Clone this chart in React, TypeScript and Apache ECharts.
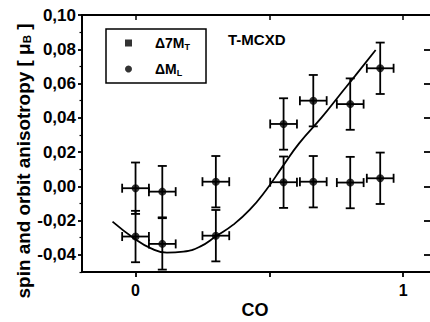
import React, { useEffect, useRef } from "react";
import * as echarts from "echarts";

// ---- data ----
const coverage = [0, 0.1, 0.3, 0.553, 0.664, 0.802, 0.914];
const deltaML = [-0.0293, -0.0336, -0.0288, 0.0364, 0.05, 0.048, 0.0689];
const delta7MT = [-0.0011, -0.0031, 0.0027, 0.0024, 0.0027, 0.0022, 0.0047];
const coverageErr = [0.05, 0.05, 0.05, 0.05, 0.05, 0.05, 0.05];
const anisoErr = [0.015, 0.015, 0.015, 0.015, 0.015, 0.015, 0.015];

const fitCoverage = [-0.086, -0.006, 0.056, 0.117, 0.179, 0.241, 0.303, 0.364, 0.426, 0.488, 0.549, 0.611, 0.697, 0.759, 0.821, 0.897];
const fitAniso = [-0.0206, -0.0303, -0.0361, -0.0387, -0.0381, -0.0352, -0.0289, -0.0225, -0.0138, -0.0021, 0.0115, 0.0251, 0.0405, 0.0526, 0.0646, 0.0796];

const yLabelValues = [-0.04, -0.02, 0, 0.02, 0.04, 0.06, 0.08, 0.1];
const yMinorValues = [-0.05, -0.03, -0.01, 0.01, 0.03, 0.05, 0.07, 0.09];
const xTickValues = [0, 0.5, 1];
const xLabelValues = [0, 1];

const FONT = "'Liberation Sans', Arial, sans-serif";

function renderErr(params: any, api: any) {
  const x = api.value(0);
  const y = api.value(1);
  const ex = api.value(2);
  const ey = api.value(3);
  const L = api.coord([x - ex, y]);
  const R = api.coord([x + ex, y]);
  const T = api.coord([x, y + ey]);
  const B = api.coord([x, y - ey]);
  const s = { stroke: "#000", lineWidth: 1.8 };
  const c = 4.5;
  const ln = (x1: number, y1: number, x2: number, y2: number) => ({
    type: "line",
    shape: { x1, y1, x2, y2 },
    style: s,
  });
  return {
    type: "group",
    children: [
      ln(L[0], L[1], R[0], R[1]),
      ln(T[0], T[1], B[0], B[1]),
      ln(T[0] - c, T[1], T[0] + c, T[1]),
      ln(B[0] - c, B[1], B[0] + c, B[1]),
      ln(L[0], L[1] - c, L[0], L[1] + c),
      ln(R[0], R[1] - c, R[0], R[1] + c),
    ],
  };
}

export default function App() {
  const ref = useRef<HTMLDivElement>(null);
  useEffect(() => {
    if (!ref.current) return;
    const chart = echarts.init(ref.current, null, { renderer: "svg" });
    const errData = (vals: number[]) =>
      coverage.map((c, i) => [c, vals[i], coverageErr[i], anisoErr[i]]);
    const option: any = {
      animation: false,
      backgroundColor: "#fff",
      grid: { left: 82, top: 15, width: 351, height: 257 },
      legend: {
        orient: "vertical",
        left: 106,
        top: 29,
        padding: [6, 16, 6, 19],
        itemGap: 10,
        itemWidth: 7,
        itemHeight: 7,
        borderColor: "#000",
        borderWidth: 1.5,
        data: [
          { name: "Δ7M_T", icon: "rect" },
          { name: "ΔM_L", icon: "circle" },
        ],
        formatter: (name: string) =>
          name === "Δ7M_T" ? "Δ7M{sub|T}" : "ΔM{sub|L}",
        textStyle: {
          fontFamily: FONT,
          fontWeight: "bold",
          fontSize: 14,
          color: "#000",
          lineHeight: 16,
          padding: [0, 0, 0, 18],
          rich: {
            sub: {
              fontFamily: FONT,
              fontWeight: "bold",
              fontSize: 9,
              color: "#000",
              verticalAlign: "bottom",
              lineHeight: 16,
              padding: [6, 0, 0, 0],
            },
          },
        },
      },
      xAxis: [
        {
          type: "value",
          position: "bottom",
          min: -0.2,
          max: 1.1,
          axisLine: { show: true, onZero: false, lineStyle: { color: "#000", width: 2 } },
          axisTick: { show: true, customValues: xTickValues, length: 5, lineStyle: { color: "#000", width: 1.8 } },
          axisLabel: {
            show: true,
            customValues: xLabelValues,
            margin: 10,
            fontFamily: FONT,
            fontWeight: "bold",
            fontSize: 16,
            color: "#000",
            formatter: (v: number) => String(v),
          },
          splitLine: { show: false },
        },
        {
          type: "value",
          position: "top",
          min: -0.2,
          max: 1.1,
          axisLine: { show: true, onZero: false, lineStyle: { color: "#000", width: 2 } },
          axisTick: { show: true, inside: true, customValues: xTickValues, length: 5, lineStyle: { color: "#000", width: 1.5 } },
          axisLabel: { show: false },
          splitLine: { show: false },
        },
      ],
      yAxis: [
        {
          type: "value",
          position: "left",
          min: -0.05,
          max: 0.1,
          axisLine: { show: true, onZero: false, lineStyle: { color: "#000", width: 2 } },
          axisTick: { show: true, customValues: yLabelValues, length: 4, lineStyle: { color: "#000", width: 1.8 } },
          axisLabel: {
            show: true,
            customValues: yLabelValues,
            margin: 6,
            fontFamily: FONT,
            fontWeight: "bold",
            fontSize: 17,
            color: "#000",
            formatter: (v: number) => v.toFixed(2).replace(".", ","),
          },
          splitLine: { show: false },
        },
        {
          type: "value",
          position: "left",
          min: -0.05,
          max: 0.1,
          axisLine: { show: false, onZero: false },
          axisTick: { show: true, customValues: yMinorValues, length: 2.5, lineStyle: { color: "#000", width: 1.2 } },
          axisLabel: { show: false },
          splitLine: { show: false },
        },
        {
          type: "value",
          position: "right",
          min: -0.05,
          max: 0.1,
          axisLine: { show: false, onZero: false },
          axisTick: { show: true, inside: true, customValues: yLabelValues, length: 6, lineStyle: { color: "#000", width: 1.8 } },
          axisLabel: { show: false },
          splitLine: { show: false },
        },
      ],
      series: [
        {
          type: "line",
          name: "fit",
          data: fitCoverage.map((c, i) => [c, fitAniso[i]]),
          smooth: true,
          showSymbol: false,
          symbol: "none",
          lineStyle: { color: "#000", width: 1.8 },
          z: 2,
        },
        {
          type: "custom",
          name: "errML",
          renderItem: renderErr,
          data: errData(deltaML),
          encode: { x: 0, y: 1 },
          z: 3,
        },
        {
          type: "custom",
          name: "err7MT",
          renderItem: renderErr,
          data: errData(delta7MT),
          encode: { x: 0, y: 1 },
          z: 3,
        },
        {
          type: "scatter",
          name: "Δ7M_T",
          data: coverage.map((c, i) => [c, delta7MT[i]]),
          symbol: "circle",
          symbolSize: 8,
          itemStyle: { color: "#000" },
          z: 4,
        },
        {
          type: "scatter",
          name: "ΔM_L",
          data: coverage.map((c, i) => [c, deltaML[i]]),
          symbol: "circle",
          symbolSize: 8,
          itemStyle: { color: "#000" },
          z: 4,
        },
      ],
      graphic: [
        {
          type: "text",
          left: 228,
          top: 32,
          style: {
            text: "T-MCXD",
            fontFamily: FONT,
            fontWeight: "bold",
            fontSize: 15,
            fill: "#000",
          },
        },
        {
          type: "text",
          x: 24,
          y: 161,
          rotation: Math.PI / 2,
          scaleX: 1.05,
          style: {
            text: "spin and orbit anisotropy [ μ{sub|B} ]",
            fontFamily: FONT,
            fontWeight: "bold",
            fontSize: 18,
            fill: "#000",
            align: "center",
            verticalAlign: "middle",
            rich: {
              sub: {
                fontFamily: FONT,
                fontWeight: "bold",
                fontSize: 11,
                fill: "#000",
                verticalAlign: "bottom",
                padding: [7, 0, 0, 0],
              },
            },
          },
        },
        {
          type: "text",
          x: 255,
          y: 310,
          style: {
            text: "CO",
            fontFamily: FONT,
            fontWeight: "bold",
            fontSize: 18,
            fill: "#000",
            align: "center",
            verticalAlign: "middle",
          },
        },
      ],
    };
    chart.setOption(option);
    return () => chart.dispose();
  }, []);
  return (
    <div
      ref={ref}
      style={{ position: "fixed", left: 0, top: 0, width: 430, height: 322, background: "#fff" }}
    />
  );
}
